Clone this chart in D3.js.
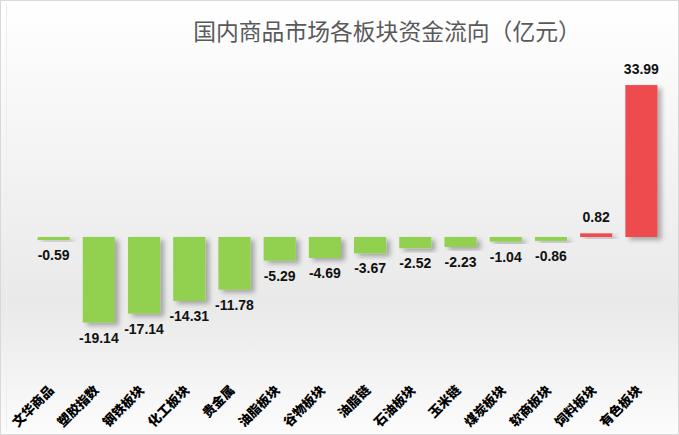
<!DOCTYPE html>
<html lang="zh">
  <head>
    <meta charset="UTF-8" />
    <title>国内商品市场各板块资金流向</title>
    <style>
      html, body { margin: 0; padding: 0; background: #fff; }
      svg { display: block; }
    </style>
  </head>
  <body>
    <svg id="svg" width="679" height="435"></svg>
    <script src="https://cdn.jsdelivr.net/npm/d3@7/dist/d3.min.js"></script>
    <script>
      const title = '国内商品市场各板块资金流向（亿元）'
      const categories = ['文华商品', '塑胶指数', '钢铁板块', '化工板块', '贵金属', '油脂板块', '谷物板块',
        '油脂链', '石油板块', '玉米链', '煤炭板块', '软商板块', '饲料板块', '有色板块']
      const values = [-0.59, -19.14, -17.14, -14.31, -11.78, -5.29, -4.69, -3.67, -2.52, -2.23, -1.04, -0.86, 0.82, 33.99]

      const svg = d3.select('#svg')
      const width = +svg.attr('width')
      const height = +svg.attr('height')

      const defs = svg.append('defs')
      const grad = defs.append('linearGradient').attr('id', 'bg')
        .attr('x1', 0).attr('y1', 0).attr('x2', 0).attr('y2', 1)
      grad.append('stop').attr('offset', '0%').attr('stop-color', '#ffffff')
      grad.append('stop').attr('offset', '35%').attr('stop-color', '#f4f4f4')
      grad.append('stop').attr('offset', '70%').attr('stop-color', '#e9e9e9')
      grad.append('stop').attr('offset', '100%').attr('stop-color', '#fcfcfc')

      const shadow = defs.append('filter').attr('id', 'shadow')
        .attr('x', '-20%').attr('y', '-20%').attr('width', '160%').attr('height', '160%')
      shadow.append('feDropShadow').attr('dx', 4).attr('dy', 3).attr('stdDeviation', 2.5)
        .attr('flood-color', '#000').attr('flood-opacity', 0.3)

      svg.append('rect').attr('x', 0.5).attr('y', 0.5)
        .attr('width', width - 1).attr('height', height - 1)
        .attr('fill', 'url(#bg)').attr('stroke', '#d9d9d9')
      svg.append('line').attr('x1', 6.5).attr('x2', 6.5).attr('y1', 4).attr('y2', height - 4)
        .attr('stroke', '#ededed')

      // title
      svg.append('text')
        .attr('x', 387).attr('y', 40)
        .attr('text-anchor', 'middle')
        .attr('font-family', '"Noto Sans CJK SC", sans-serif')
        .attr('font-size', 22.8)
        .attr('fill', '#595959')
        .text(title)

      const x = d3.scaleBand()
        .domain(categories)
        .range([31, 664])
        .paddingInner(0.29)
        .paddingOuter(0.145)

      // zero at 237, about 4.47 px per 亿元
      const y = d3.scaleLinear().domain([-20, 35]).range([237 + 20 * 4.47, 237 - 35 * 4.47])

      const g = svg.append('g')

      g.selectAll('rect.bar')
        .data(values)
        .enter()
        .append('rect')
        .attr('class', 'bar')
        .attr('x', (d, i) => x(categories[i]))
        .attr('y', (d) => y(Math.max(0, d)))
        .attr('width', x.bandwidth())
        .attr('height', (d) => Math.max(3, Math.abs(y(d) - y(0))))
        .attr('fill', (d) => (d < 0 ? '#92d050' : '#ee4b50'))
        .attr('filter', 'url(#shadow)')

      g.selectAll('text.val')
        .data(values)
        .enter()
        .append('text')
        .attr('class', 'val')
        .attr('x', (d, i) => x(categories[i]) + x.bandwidth() / 2)
        .attr('y', (d) => (d < 0 ? Math.max(y(d), y(0) + 3) + 20 : y(d) - 11))
        .attr('text-anchor', 'middle')
        .attr('font-family', '"Liberation Sans", Arial, sans-serif')
        .attr('font-weight', 'bold')
        .attr('font-size', 14)
        .attr('fill', '#111')
        .text((d) => d.toFixed(2))

      // rotated category labels
      g.selectAll('text.cat')
        .data(categories)
        .enter()
        .append('text')
        .attr('class', 'cat')
        .attr('transform', (d) => `translate(${x(d) + x.bandwidth() / 2 + 1},391) rotate(-45)`)
        .attr('text-anchor', 'end')
        .attr('font-family', '"Noto Sans CJK SC", serif')
        .attr('font-weight', 900)
        .attr('font-size', 13)
        .attr('fill', '#000')
        .text((d) => d)
    </script>
  </body>
</html>
